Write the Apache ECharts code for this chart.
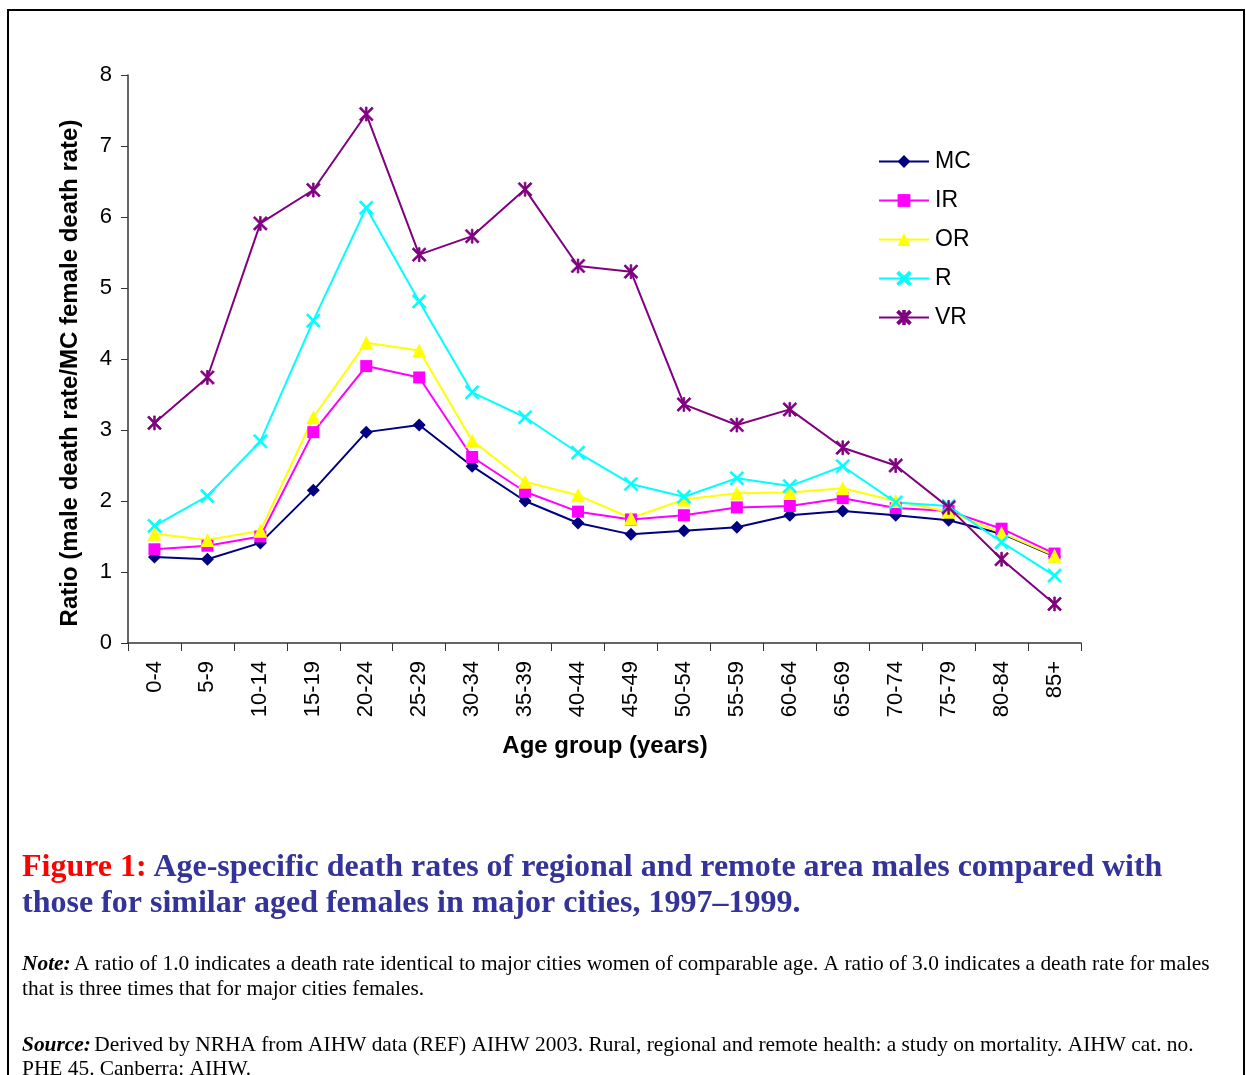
<!DOCTYPE html>
<html>
<head>
<meta charset="utf-8">
<script src="https://cdn.jsdelivr.net/npm/echarts@6/dist/echarts.min.js"></script>
<style>
html,body{margin:0;padding:0;background:#fff;}
#chart{width:1246px;height:1075px;}
</style>
</head>
<body>
<div id="chart"></div>
<script>
const categories = ['0-4','5-9','10-14','15-19','20-24','25-29','30-34','35-39','40-44','45-49','50-54','55-59','60-64','65-69','70-74','75-79','80-84','85+'];
const MC = [1.21,1.18,1.41,2.15,2.97,3.07,2.49,2.00,1.69,1.53,1.58,1.63,1.80,1.86,1.80,1.73,1.54,1.22];
const IR = [1.32,1.37,1.50,2.97,3.90,3.74,2.62,2.13,1.85,1.74,1.80,1.91,1.93,2.04,1.90,1.86,1.61,1.26];
const OR = [1.54,1.45,1.58,3.18,4.23,4.12,2.85,2.27,2.08,1.76,2.02,2.11,2.12,2.18,2.00,1.85,1.55,1.23];
const R  = [1.65,2.07,2.84,4.54,6.13,4.81,3.53,3.18,2.68,2.24,2.06,2.32,2.21,2.49,1.98,1.93,1.42,0.95];
const VR = [3.10,3.74,5.91,6.38,7.45,5.47,5.73,6.39,5.31,5.23,3.36,3.07,3.29,2.75,2.50,1.91,1.18,0.55];
const yTicks = [0,1,2,3,4,5,6,7,8];

const crossPath = 'path://M0,1 L1,0 L10,9 L9,10 Z M9,0 L10,1 L1,10 L0,9 Z';
const starPath = 'path://M0,1 L1,0 L10,9 L9,10 Z M9,0 L10,1 L1,10 L0,9 Z M4.4,0 L5.6,0 L5.6,10 L4.4,10 Z';

const SANS = 'Liberation Sans, Arial, sans-serif';
const SERIF = 'Liberation Serif, Times New Roman, serif';

function mk(name, data, color, symbol, size) {
  return {
    name: name, type: 'line', data: data,
    symbol: symbol, symbolSize: size, showSymbol: true,
    lineStyle: {color: color, width: 2},
    itemStyle: {color: color, borderColor: color, borderWidth: (symbol.indexOf('path') === 0 ? 0.8 : 0)},
    emphasis: {disabled: true},
    animation: false
  };
}

const chart = echarts.init(document.getElementById('chart'), null, {renderer: 'canvas'});
chart.setOption({
  backgroundColor: '#fff',
  animation: false,
  grid: {left: 128, top: 75, right: 165, bottom: 432},
  legend: {
    orient: 'vertical', left: 873, top: 145, itemWidth: 50, itemHeight: 16, itemGap: 16,
    textStyle: {fontFamily: SANS, fontSize: 23, color: '#000', lineHeight: 20, padding: [0,0,0,1]},
    data: ['MC','IR','OR','R','VR']
  },
  xAxis: {
    type: 'category', data: categories, boundaryGap: true,
    axisLine: {lineStyle: {color: '#333', width: 1.5}},
    axisTick: {show: true, length: 8, lineStyle: {color: '#333'}, alignWithLabel: false},
    axisLabel: {rotate: 90, margin: 18, fontFamily: SANS, fontSize: 22, color: '#000', interval: 0}
  },
  yAxis: {
    type: 'value', min: 0, max: 8, interval: 1,
    axisLine: {show: true, lineStyle: {color: '#333', width: 1.5}},
    axisTick: {show: true, length: 7, lineStyle: {color: '#333'}},
    splitLine: {show: false},
    axisLabel: {margin: 16, fontFamily: SANS, fontSize: 22, color: '#000',
      formatter: function(v){ return yTicks.indexOf(v) >= 0 ? String(v) : ''; }}
  },
  series: [
    mk('MC', MC, '#000080', 'diamond', 13),
    mk('IR', IR, '#FF00FF', 'rect', 12),
    mk('OR', OR, '#FFFF00', 'triangle', 14),
    mk('R', R, '#00FFFF', crossPath, 14),
    mk('VR', VR, '#800080', starPath, 14)
  ],
  graphic: [
    {type: 'rect', silent: true, shape: {x: 8, y: 10, width: 1236, height: 1080},
      style: {fill: 'none', stroke: '#000', lineWidth: 2}},
    {type: 'text', x: 70, y: 373, rotation: Math.PI / 2, silent: true,
      style: {text: 'Ratio (male death rate/MC female death rate)', fontFamily: SANS, fontSize: 24, fontWeight: 'bold',
        fill: '#000', align: 'center', verticalAlign: 'middle'}},
    {type: 'text', x: 605, y: 746, silent: true,
      style: {text: 'Age group (years)', fontFamily: SANS, fontSize: 24, fontWeight: 'bold',
        fill: '#000', align: 'center', verticalAlign: 'middle'}},
    {type: 'text', left: 22, top: 852, silent: true,
      style: {
        text: '{r|Figure 1:}  {b|Age-specific death rates of regional and remote area males compared with}\n{b|those for similar aged females in major cities, 1997\u20131999.}',
        rich: {
          r: {fontFamily: SERIF, fontSize: 32, fontWeight: 'bold', fill: '#FF0000', lineHeight: 36},
          b: {fontFamily: SERIF, fontSize: 32, fontWeight: 'bold', fill: '#333399', lineHeight: 36}
        }
      }},
    {type: 'text', left: 22, top: 954, silent: true,
      style: {
        text: '{i|Note:} {n|A ratio of 1.0 indicates a death rate identical to major cities women of comparable age. A ratio of 3.0 indicates a death rate for males}\n{n|that is three times that for major cities females.}',
        rich: {
          i: {fontFamily: SERIF, fontSize: 21.4, fontWeight: 'bold', fontStyle: 'italic', fill: '#000', lineHeight: 25},
          n: {fontFamily: SERIF, fontSize: 21.4, fill: '#000', lineHeight: 25}
        }
      }},
    {type: 'text', left: 22, top: 1035, silent: true,
      style: {
        text: '{i|Source:} {n|Derived by NRHA from AIHW data (REF) AIHW 2003. Rural, regional and remote health: a study on mortality. AIHW cat. no.}\n{n|PHE 45. Canberra: AIHW.}',
        rich: {
          i: {fontFamily: SERIF, fontSize: 21.4, fontWeight: 'bold', fontStyle: 'italic', fill: '#000', lineHeight: 24},
          n: {fontFamily: SERIF, fontSize: 21.4, fill: '#000', lineHeight: 24}
        }
      }}
  ]
});
</script>
</body>
</html>
